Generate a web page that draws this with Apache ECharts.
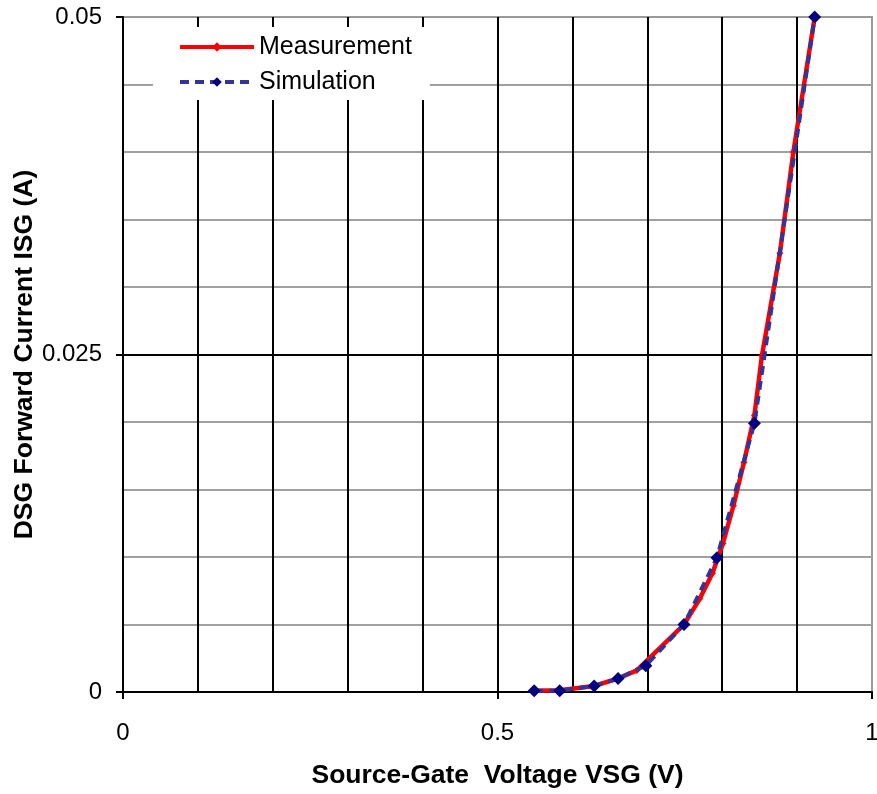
<!DOCTYPE html>
<html>
<head>
<meta charset="utf-8">
<script src="https://cdn.jsdelivr.net/npm/echarts@6/dist/echarts.min.js"></script>
<style>
html,body{margin:0;padding:0;background:#fff;}
#chart{width:877px;height:794px;}
</style>
</head>
<body>
<div id="chart"></div>
<script>
// Data
const measVSG = [0.549, 0.583, 0.629, 0.661, 0.686, 0.749, 0.770, 0.787, 0.801, 0.815, 0.829, 0.843, 0.853, 0.877, 0.895, 0.9235];
const measISG = [0.0001, 0.00013, 0.00045, 0.001, 0.0016, 0.005, 0.0069, 0.0088, 0.0110, 0.0138, 0.0170, 0.0205, 0.0249, 0.0325, 0.04, 0.05];
const simVSG = [0.549, 0.583, 0.629, 0.661, 0.698, 0.749, 0.793, 0.843, 0.9235];
const simISG = [0.0001, 0.0001, 0.00044, 0.001, 0.00195, 0.005, 0.00995, 0.0199, 0.05];
const seriesNames = ['Measurement', 'Simulation'];
const xTitle = 'Source-Gate  Voltage VSG (V)';
const yTitle = 'DSG Forward Current ISG (A)';

const zip = (a, b) => a.map((v, i) => [v, b[i]]);
const FONT = "'Liberation Sans', Arial, sans-serif";

const chart = echarts.init(document.getElementById('chart'), null, {renderer: 'canvas'});
chart.setOption({
  animation: false,
  backgroundColor: '#fff',
  grid: {
    left: 123, right: 5, top: 17, bottom: 102,
    outerBoundsMode: 'none', containLabel: false,
    show: true, borderColor: '#999', borderWidth: 2, backgroundColor: 'transparent'
  },
  legend: {
    orient: 'vertical',
    left: 153, top: 27,
    padding: [5, 18, 3, 25],
    backgroundColor: '#fff',
    itemWidth: 74, itemHeight: 12, itemGap: 5,
    lineStyle: {width: 4},
    textStyle: {fontFamily: FONT, fontSize: 25, color: '#000', lineHeight: 30},
    data: seriesNames
  },
  xAxis: {
    type: 'value', min: 0, max: 1, interval: 0.5,
    name: xTitle, nameLocation: 'middle', nameGap: 70, nameMoveOverlap: false,
    nameTextStyle: {fontFamily: FONT, fontSize: 26.5, fontWeight: 'bold', color: '#000'},
    axisLine: {show: true, onZero: false, lineStyle: {color: '#000', width: 2}},
    axisTick: {show: true, inside: false, length: 7, lineStyle: {color: '#000', width: 2}},
    minorTick: {show: false, splitNumber: 5},
    axisLabel: {fontFamily: FONT, fontSize: 24, color: '#000', margin: 29},
    splitLine: {show: true, showMinLine: false, showMaxLine: false, lineStyle: {color: '#000', width: 2}},
    minorSplitLine: {show: true, lineStyle: {color: '#000', width: 2}}
  },
  yAxis: {
    type: 'value', min: 0, max: 0.05, interval: 0.025,
    name: yTitle, nameLocation: 'middle', nameGap: 85, nameMoveOverlap: false,
    nameTextStyle: {fontFamily: FONT, fontSize: 26.5, fontWeight: 'bold', color: '#000'},
    axisLine: {show: true, onZero: false, lineStyle: {color: '#000', width: 2}},
    axisTick: {show: true, inside: false, length: 7, lineStyle: {color: '#000', width: 2}},
    minorTick: {show: false, splitNumber: 5},
    axisLabel: {fontFamily: FONT, fontSize: 24, color: '#000', margin: 21},
    splitLine: {show: true, showMinLine: false, showMaxLine: false, lineStyle: {color: '#000', width: 2}},
    minorSplitLine: {show: true, lineStyle: {color: '#a0a0a0', width: 2}}
  },
  series: [
    {
      name: seriesNames[0], type: 'line',
      data: zip(measVSG, measISG),
      symbol: 'diamond', symbolSize: 7,
      itemStyle: {color: '#ff0000'},
      lineStyle: {color: '#ff0000', width: 4.5, join: 'round'},
      z: 3
    },
    {
      name: seriesNames[1], type: 'line',
      data: zip(simVSG, simISG),
      symbol: 'diamond', symbolSize: 13,
      itemStyle: {color: '#000080'},
      lineStyle: {color: '#333399', width: 4, type: [9, 6]},
      z: 4
    }
  ]
});
</script>
</body>
</html>
